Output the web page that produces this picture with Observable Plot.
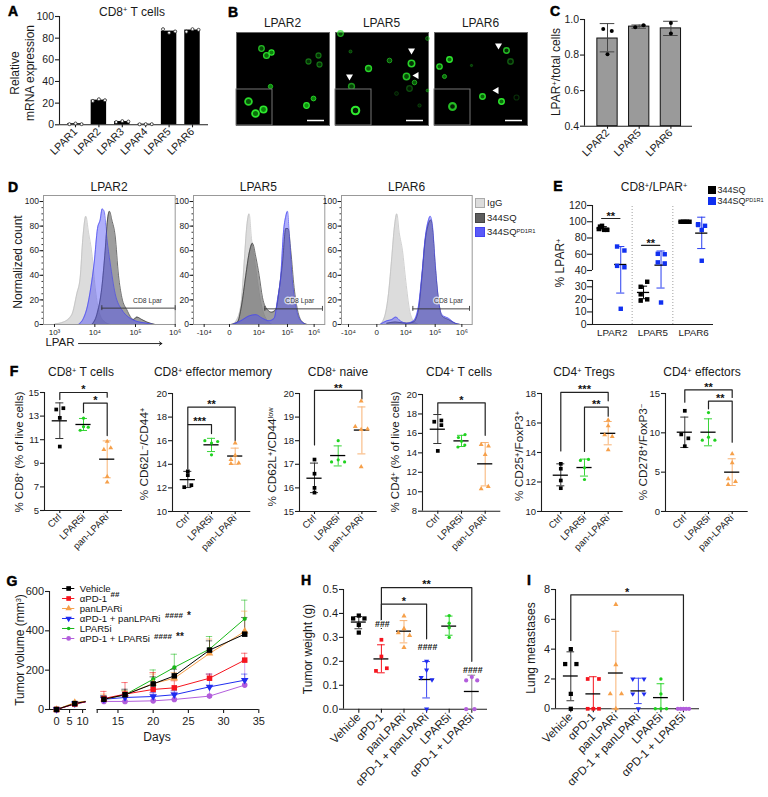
<!DOCTYPE html>
<html><head><meta charset="utf-8">
<script src="https://cdn.jsdelivr.net/npm/d3@7"></script>
<script src="https://cdn.jsdelivr.net/npm/@observablehq/plot@0.6"></script>
<style>
html,body{margin:0;padding:0;background:#fff}
#root{position:relative;width:768px;height:797px;overflow:hidden;font-family:"Liberation Sans",Arial,sans-serif;color:#1a1a1a}
#root svg{position:absolute;background:transparent;overflow:visible}
.t{position:absolute;white-space:nowrap;line-height:1;z-index:5}
.t sup{font-size:.62em;line-height:0;vertical-align:baseline;position:relative;top:-.42em}
.s{position:absolute;z-index:5}
</style></head><body><div id="root"></div>
<script>
// ---------- Panel A
const aCats=["LPAR1","LPAR2","LPAR3","LPAR4","LPAR5","LPAR6"];
const aBars=[1,22.8,3,0.6,86.5,87.5];
const aPoints=[[0.6,1.2,0.6],[22,23.6,22.7],[2.5,3.4,3],[0.5,0.6,0.6],[88.3,85,86.2],[86,88.3,87.7]];
const aOffsets=[-0.26,0,0.26];
// ---------- Panel C
const cCats=["LPAR2","LPAR5","LPAR6"];
const cMeans=[0.893,0.96,0.95];
const cUpper=[0.977,0.969,0.99];
const cLower=[0.818,0.951,0.91];
const cPoints=[[0.946,0.936,0.805],[0.957,0.968],[0.981,0.921]];
const cOffsets=[[-0.135,0.135,0],[-0.125,0.135],[0,0]];
// ---------- Panel B: cells [x,y,r,brightness,fill] in image pixels
const bTitles=["LPAR2","LPAR5","LPAR6"];
const bCells=[
 [[25,16,4,.8,.5],[30,23,4.4,.9,.6],[35,20,3.6,1,.7],[72,29,3.5,.45,.6],[82,23,3.5,.45,.6],[83,32,3.5,.45,.6],[34,54,2.5,.9,.8],[70,73,4,1,.8],[77,66,3,.9,.8]],
 [[5,1,4,.7,.6],[15,19,1.2,.5,.6],[33,36,4.5,.9,.6],[16,54,4.5,.6,.6],[54,28,2.8,.7,.6],[76,31,5.2,.9,.3],[71,44,5,.8,.5],[79,50,2.6,.8,.6],[74,56,4,.3,.5],[61,61,2,.25,.5],[92,6,2,.6,.6],[84,73,1.5,.3,.6],[92,58,1,.6,.8]],
 [[72,18,4.6,.8,.3],[76,29,4.6,.35,.4],[15,27,4.6,1,.6],[5,34,4.4,.9,.6],[10,44,2.6,.8,.7],[48,64,4.6,.9,.6],[67,69,4.6,1,.6],[82,65,3.8,.2,.1],[37,33,.8,.4,.8]]];
const bInsets=[[[12,69,6,.9,.5],[19,81,6,1,.6],[27,77,5.5,1,.7]],[[20,78,7,1,.15]],[[18,74,7,.8,.2]]];
const bArrows=[[],[[14,44,180],[76,18,180],[81,43,-90]],[[64,13,60],[62,58,-90]]];
// ---------- Panel D: display channel vs normalized count
const dLabels=[["10³","10⁴","10⁵","10⁶"],["-10⁴","0","10⁴","10⁵","10⁶"],["-10⁴","0","10⁴","10⁵","10⁶"]];
const dTicks=[[0,121,243,362],[-76,0,88,174,254],[-85,0,87,175,255]];
const dIgG=[
 [[2,.5],[27,2],[52,8],[67,25],[77,38],[85,70],[94,88],[102,75],[112,58],[122,30],[132,12],[147,3],[167,0]],
 [[9,0],[24,5],[36,20],[44,50],[52,80],[59,90],[66,70],[74,55],[84,35],[94,18],[104,8],[114,3],[129,0]],
 [[10,0],[25,8],[35,25],[45,55],[53,80],[60,90],[67,75],[77,60],[87,35],[98,12],[110,3],[125,0]]];
const dGray=[
 [[112,0],[127,8],[142,30],[152,60],[159,85],[165,92],[172,85],[182,72],[192,40],[202,22],[217,12],[237,4],[247,6],[262,4],[277,2],[302,0]],
 [[4,0],[24,2],[36,15],[49,40],[59,58],[69,66],[79,55],[89,40],[99,22],[114,12],[126,10],[139,12],[149,28],[159,50],[169,78],[176,78],[184,60],[194,30],[204,12],[219,2],[234,0]],
 [[30,1],[55,2],[90,1],[110,2],[125,12],[135,38],[145,68],[155,82],[162,85],[168,75],[175,48],[185,20],[195,7],[215,4],[235,1],[250,0]]];
const dBlue=[
 [[72,0],[87,5],[99,15],[109,30],[119,50],[129,78],[137,85],[143,94],[149,92],[157,70],[167,50],[182,25],[202,12],[222,6],[242,3],[277,1],[297,0]],
 [[9,0],[34,3],[59,7],[79,8],[99,5],[119,3],[134,5],[144,20],[154,40],[162,75],[169,88],[174,92],[180,70],[189,35],[199,15],[209,5],[229,0]],
 [[10,0],[30,3],[45,4],[57,6],[70,3],[90,1],[110,3],[125,15],[135,40],[145,70],[155,85],[160,88],[167,80],[175,50],[185,20],[195,8],[215,5],[235,1],[250,0]]];
const dGateStart=[142,106,108];
const dGateEnd=[362,279,278];
const dGateLabelX=[279,211,215];
// ---------- Panel E
const eCats=["LPAR2","LPAR5","LPAR6"];
const eBlackX=[-.3,-.25,-.33,-.2,-.12,.86,.7,.7,.86,.7,1.68,1.74,1.79,1.84,1.9];
const eBlackY=[94,95,91,90,90,34,30,24,20,19,100,100,100,100,100];
const eBlueX=[.12,.3,.12,.3,.21,1.12,1.29,1.12,1.29,1.2,2.11,2.28,2.2,2.11,2.2];
const eBlueY=[69.5,64.6,45.7,44,12.5,60.5,60,50,48.7,17.5,97,95,90,96,52];
const eBlackCenter=[-.22,.77,1.79], eBlackMean=[92,25.5,100], eBlackHi=[94,30.5,100], eBlackLo=[90,20.5,100];
const eBlueCenter=[.21,1.2,2.2], eBlueMean=[47.4,46.6,86], eBlueHi=[69.5,64,105.6], eBlueLo=[25,29,67];
// ---------- Panel F
const fCats=["Ctrl","LPAR5i","pan-LPARi"];
const f1Y=[[13.56,13.67,12.85,10.42],[12.82,11.8,12.06,12.1],[10.85,10.17,10.3,7.88,7.4]];
const f1X=[[-.15,.15,0,0],[0,-.14,.2,0],[0,-.14,.15,0,0]];
const f1Mean=[12.6,12.29,9.35],f1Hi=[14.12,12.8,10.9],f1Lo=[11.1,11.78,7.77];
const f1Br=[[0,2,15,14.4,14.6,"*",15.5],[1,2,14.1,13.3,11.35,"*",14.5]];
const f2Y=[[13.4,13.08,12.06,12.23],[16,15.93,15.8,14.8],[15.8,14.75,14.4,14.05,14.1]];
const f2X=[[0,0,-.15,.15],[-.28,.26,0,0],[0,0,-.18,-.18,.15]];
const f2Mean=[12.7,15.65,14.7],f2Hi=[13.4,16.2,15.37],f2Lo=[12.03,15.08,14];
const f2Br=[[0,1,17.37,13.6,16.6,"***",17.82],[0,2,18.84,17.4,16,"**",19.3]];
const f3Y=[[17.2,16.6,16,15.8],[18,17.1,17.19,17.1],[19.68,18.6,18.47,18.49,16.89]];
const f3X=[[0,0,0,0],[0,-.28,0,.27],[-.03,-.28,-.03,.24,-.03]];
const f3Mean=[16.41,17.37,18.45],f3Hi=[17.05,17.78,19.43],f3Lo=[15.8,16.93,17.44];
const f3Br=[[0,2,20.13,17.82,19.77,"**",20.34]];
const f4Y=[[17.2,17.33,16.85,14.2],[15.88,15.58,15.2,14.6,14.8],[14.86,14.69,13.83,10.3,10.54]];
const f4X=[[-.15,.15,.15,0],[.15,-.13,0,-.15,.14],[-.17,.14,0,-.17,.13]];
const f4Mean=[16.43,15.23,12.87],f4Hi=[17.94,15.8,15.06],f4Lo=[14.96,14.65,10.6];
const f4Br=[[0,2,19.14,18.05,15.8,"*",19.69]];
const f5Y=[[13.23,12.9,12.1,11.58],[13.53,13.46,12.96,12.17],[16.2,15.8,15.2,15.08,14.18]];
const f5X=[[0,0,0,0],[.17,-.17,0,0],[0,0,-.15,.17,0]];
const f5Mean=[12.46,12.98,15.3],f5Hi=[13.23,13.55,16.1],f5Lo=[11.74,12.4,14.52];
const f5Br=[[0,2,18.07,14.1,17.5,"***",18.45],[1,2,17.07,14.07,16.46,"**",17.41]];
const f6Y=[[12.8,9.8,9.3,8.3],[12.58,9.45,9.07,9.07],[7.33,6.19,4.15,3.8,3.43]];
const f6X=[[0,-.15,.15,0],[0,0,-.26,.27],[0,0,-.17,.14,-.17]];
const f6Mean=[10.08,10.08,5],f6Hi=[12,11.78,6.7],f6Lo=[8.14,8.35,3.3];
const f6Br=[[0,2,15.47,13.9,14.5,"**",16.1],[1,2,14.03,13.05,8.8,"**",14.66]];
// ---------- Panel G
const gNames=["Vehicle","αPD-1","panLPARi","αPD-1 + panLPARi","LPAR5i","αPD-1 + LPAR5i"];
const gEarlyDays=[0,7,11];
const gLateDays=[13,16,20,23,28,33];
const gEarly=[[0,30,40],[0,28,38],[0,35,42],[0,30,38],[0,32,40],[0,28,38]];
const gLate=[[52,75,130,171,302,383],[56,78,102,110,159,251],[52,75,132,159,285,397],[52,61,66,75,115,149],[51,75,154,214,307,461],[41,41,44,51,68,124]];
const gUpper=[[65,103,166,205,349,468],[92,137,188,146,180,286],[78,95,180,188,358,500],[70,78,86,95,180,180],[70,95,201,281,371,556],[61,70,78,86,112,247]];
// ---------- Panels H and I
const hiCats=gNames;
const hY=[[.391,.379,.379,.352,.32],[.29,.22,.171,.16],[.389,.336,.319,.308,.258],[.2,.164,.132,.123,.001],[.391,.359,.34,.3],[.134,.12,.12,0,0]];
const hX=[[0,-.25,.25,0,0],[0,0,.24,-.24],[0,0,-.25,.25,0],[0,0,-.24,.24,0],[0,0,0,0],[0,-.25,.24,-.25,.12]];
const hMean=[.364,.21,.326,.124,.347,.074],hHi=[.387,.269,.37,.199,.389,.142],hLo=[.336,.152,.277,.047,.309,0];
const hBr=[[1,5,.508,.338,.2,"**",.532],[1,3,.439,.338,.294,"*",.46]];
const hMarks=[[1,.357,"###"],[3,.259,"####"],[5,.164,"####"]];
const iY=[[4,3,3,1,0],[2,2,0,0,0],[7,2.95,1,1,0],[2,2,1,1,0],[2,1,0,0,0],[0,0,0,0,0]];
const iX=[[0,-.25,.25,0,0],[-.25,.25,-.25,0,.25],[0,0,-.25,.25,0],[-.25,.25,-.25,.25,0],[0,0,-.25,0,.25],[-.25,-.12,0,.12,.25]];
const iMean=[2.2,1,2.4,1.2,.75,0],iHi=[3.82,2.15,5.2,2.05,1.68,0],iLo=[.54,0,0,.35,0,0];
const iBr=[[0,5,7.64,4.58,.56,"*",7.95]];
// ---------- Styles
const INK="#1c1c1c";
const fStyle=[{c:"#000",e:"#333",s:"square",r:2.1,o:0},{c:"#1fd21f",e:"#37d437",s:"circle",r:1.6,o:0},{c:"#f6a04a",e:"#f8b272",s:"triangle",r:1.8,o:0}];
const gStyle=[{c:"#000",s:"square",r:3.1,o:0},{c:"#f5141e",s:"square",r:3.1,o:0},{c:"#f6a04a",s:"triangle",r:2.8,o:0},{c:"#1f2cf0",s:"triangle",r:2.8,o:180},{c:"#18b818",s:"circle",r:2.1,o:0},{c:"#b25ddc",s:"circle",r:2.8,o:0}];

const root=document.getElementById("root");
const M=50,MB=100;
function chart(b,marks,over={}){
  const w=b.xR-b.xL,h=b.yB-b.yT;
  const p=Plot.plot({width:w+2*M,height:h+M+MB,marginLeft:M,marginRight:M,marginTop:M,marginBottom:MB,
    x:{domain:b.xD,range:[M,M+w],axis:null,...(over.x||{})},
    y:{domain:b.yD,range:[M+h,M],axis:null,...(over.y||{})},
    style:{fontFamily:'"Liberation Sans",Arial,sans-serif',color:INK,background:"transparent",overflow:"visible"},
    marks});
  p.style.left=(b.xL-M)+"px";p.style.top=(b.yT-M)+"px";
  root.appendChild(p);return p;
}
function T(x,y,html,o={}){
  const d=document.createElement("div");d.className="t";d.innerHTML=html;
  const tx=o.anchor==="left"?"0":"-50%";
  d.style.cssText+=`left:${x}px;top:${y}px;font-size:${o.size||12}px;font-weight:${o.bold?"bold":"normal"};transform:translate(${tx},-50%)${o.rot?` rotate(${o.rot}deg)`:""};`;
  if(o.color)d.style.color=o.color;
  if(o.heavy)d.style.webkitTextStroke=".5px #000";
  root.appendChild(d);
}
function Swatch(x,y,w,h,fill,stroke){
  const d=document.createElement("div");d.className="s";
  d.style.cssText+=`left:${x}px;top:${y}px;width:${w}px;height:${h}px;background:${fill};box-sizing:border-box;${stroke?`border:1px solid ${stroke};`:""}`;
  root.appendChild(d);
}
const range=(n)=>d3.range(n);
function axes(xa,xb,ya,yb,{yTicks,xTicks,yFmt,xFmt,fs=10.5,xfs=fs,rot=-45,xSize=3,ySize=4,sw=1.1}){
  const m=[
    Plot.ruleX([xa],{y1:ya,y2:yb,stroke:INK,strokeWidth:sw}),
    Plot.ruleY([ya],{x1:xa,x2:xb,stroke:INK,strokeWidth:sw}),
    Plot.axisY(yTicks,{anchor:"left",label:null,tickSize:ySize,tickPadding:1.5,fontSize:fs,strokeWidth:sw,tickFormat:yFmt})
  ];
  if(xTicks)m.push(Plot.axisX(xTicks,{anchor:"bottom",label:null,tickSize:xSize,tickPadding:2,fontSize:xfs,strokeWidth:sw,tickFormat:xFmt,tickRotate:rot}));
  return m;
}
function stats(centers,means,hi,lo,styles,capW,meanW,meanSw=1.3){
  const rows=means.map((m,i)=>({x:centers[i],m,hi:hi[i],lo:lo[i],e:styles[i%styles.length].e}));
  return [
    Plot.ruleX(rows,{x:"x",y1:"lo",y2:"hi",stroke:"e",strokeWidth:1}),
    Plot.ruleY(rows,{y:"hi",x1:d=>d.x-capW,x2:d=>d.x+capW,stroke:"e",strokeWidth:1}),
    Plot.ruleY(rows,{y:"lo",x1:d=>d.x-capW,x2:d=>d.x+capW,stroke:"e",strokeWidth:1}),
    Plot.ruleY(rows,{y:"m",x1:d=>d.x-meanW,x2:d=>d.x+meanW,stroke:"#000",strokeWidth:meanSw})
  ];
}
function scatter(X,Y,styles,centered=true){
  return Y.map((ys,g)=>{
    const st=styles[g];
    const rows=ys.map((v,k)=>({x:(centered?g:0)+X[g][k],y:v}));
    return Plot.dot(rows,{x:"x",y:"y",symbol:st.s,r:st.r,fill:st.c,stroke:null,rotate:st.o});
  });
}
function brackets(list,lfs=11){
  const lines=list.map(([a,b,top,ea,eb])=>[{x:a,y:ea},{x:a,y:top},{x:b,y:top},{x:b,y:eb}]);
  return [
    ...lines.map(l=>Plot.line(l,{x:"x",y:"y",stroke:"#222",strokeWidth:1.2,curve:"linear"})),
    Plot.text(list,{x:d=>(d[0]+d[1])/2,y:d=>d[6],text:d=>d[5],fontSize:lfs,fontWeight:"bold",lineAnchor:"middle",dy:2.5,fill:"#111"})
  ];
}
function xDomain(xL,xR,c0,step){return [(xL-c0)/step,(xR-c0)/step];}

// ===== A =====
{
 const xD=xDomain(59,208,75,23.4);
 const rows=aBars.map((v,i)=>({i,v}));
 const pts=aPoints.flatMap((a,i)=>a.map((v,k)=>({x:i+aOffsets[k],y:v})));
 chart({xL:59,xR:208,yT:16,yB:124.3,xD,yD:[0,100]},[
  Plot.rectY(rows,{x1:d=>d.i-.33,x2:d=>d.i+.33,y1:0,y2:"v",fill:"#000"}),
  ...axes(xD[0],xD[1],0,100,{yTicks:[0,20,40,60,80,100],xTicks:range(6),xFmt:i=>aCats[i],fs:10.5,xfs:10.7}),
  Plot.dot(pts,{x:"x",y:"y",r:1.5,fill:"#fff",stroke:"#222",strokeWidth:.8})
 ]);
 T(132,11.5,"CD8<sup>+</sup> T cells");
 T(15,73,"Relative",{rot:-90});
 T(29.5,73,"mRNA expression",{rot:-90});
}
// ===== B =====
bTitles.forEach((t,i)=>{
 const L=[236,335,434][i];
 const cellMarks=(list)=>[
   Plot.dot(list,{x:"0",y:"1",r:d=>d[2],fill:"#10b810",fillOpacity:d=>d[3]*d[4],stroke:"#2ee82e",strokeOpacity:d=>d[3],strokeWidth:d=>Math.max(.6,d[2]*.3),imageFilter:"blur(.5px)"}),
 ];
 chart({xL:L,xR:L+93,yT:32,yB:125,xD:[0,93],yD:[93,0]},[
  Plot.frame({fill:"#000",stroke:"#666"}),
  ...cellMarks(bCells[i]),
  Plot.rect([{}],{x1:0,x2:36,y1:57,y2:93,fill:"#000",stroke:"#777",strokeWidth:1}),
  ...cellMarks(bInsets[i]),
  Plot.ruleY([88],{x1:71,x2:88,stroke:"#fff",strokeWidth:1.5}),
  Plot.dot(bArrows[i],{x:"0",y:"1",rotate:"2",symbol:"triangle",r:2.6,fill:"#fff",stroke:null})
 ]);
 T(L+46.5,22.5,t);
});
// ===== C =====
{
 const xD=xDomain(584,692,607,31.7);
 const rows=cMeans.map((v,i)=>({i,v}));
 chart({xL:584,xR:692,yT:19.3,yB:126,xD,yD:[.4,1]},[
  Plot.rectY(rows,{x1:d=>d.i-.32,x2:d=>d.i+.32,y1:.4,y2:"v",fill:"#9a9a9a",stroke:"#111",strokeWidth:1}),
  Plot.ruleX(rows,{x:"i",y1:(d)=>cLower[d.i],y2:(d)=>cUpper[d.i],stroke:"#444",strokeWidth:1}),
  Plot.ruleY(rows,{y:d=>cUpper[d.i],x1:d=>d.i-.23,x2:d=>d.i+.23,stroke:"#444",strokeWidth:1}),
  Plot.ruleY(rows,{y:d=>cLower[d.i],x1:d=>d.i-.23,x2:d=>d.i+.23,stroke:"#444",strokeWidth:1}),
  ...axes(xD[0],xD[1],.4,1,{yTicks:[.4,.6,.8,1],yFmt:d3.format(".1f"),xTicks:range(3),xFmt:i=>cCats[i],fs:10.5,xfs:10.7}),
  Plot.dot(cPoints.flatMap((a,i)=>a.map((v,k)=>({x:i+cOffsets[i][k],y:v}))),{x:"x",y:"y",r:2,fill:"#000"})
 ]);
 T(556,72,"LPAR<sup>+</sup>/total cells",{rot:-90});
}
// ===== D =====
["LPAR2","LPAR5","LPAR6"].forEach((t,i)=>{
 const L=[43.3,192.7,341.3][i],R=[175,324,472][i];
 const xD=[[-33,362],[-108,286],[-106,286]][i];
 const ser=[[dIgG[i],"#dcdcdc","#bdbdbd",1],[dGray[i],"#5d5d5d","#333",.6],[dBlue[i],"#4e4ef5","#4444f0",.45]];
 const minor=d3.range(0,105,5);
 const gy=i?12.7:13.3;
 chart({xL:L,xR:R,yT:195,yB:324,xD,yD:[0,104.9]},[
  ...ser.flatMap(([d,f,s,o])=>[
    Plot.areaY(d,{x:"0",y:"1",fill:f,fillOpacity:o,curve:"monotone-x"}),
    Plot.lineY(d,{x:"0",y:"1",stroke:s,strokeWidth:.7,curve:"monotone-x"})]),
  Plot.frame({stroke:"#999",strokeWidth:1}),
  Plot.axisY(minor,{anchor:"left",tickSize:1.5,tickFormat:()=>"",label:null,stroke:"#333"}),
  Plot.axisY([0,20,40,60,80,100],{anchor:"left",tickSize:3.5,tickPadding:1,label:null,fontSize:8.5}),
  Plot.axisX(dTicks[i],{anchor:"bottom",tickSize:3,tickPadding:1.5,label:null,fontSize:8,tickFormat:v=>dLabels[i][dTicks[i].indexOf(v)]}),
  Plot.ruleY([gy],{x1:dGateStart[i],x2:dGateEnd[i],stroke:"#333",strokeWidth:.9}),
  Plot.ruleX([dGateStart[i],dGateEnd[i]],{y1:gy-2,y2:gy+2,stroke:"#333",strokeWidth:.9}),
  Plot.text(["CD8 Lpar"],{x:dGateLabelX[i],y:19.5,fontSize:6.8,fill:"#333",stroke:i?"#fff":null,strokeOpacity:.65,strokeWidth:3}),
  ...(i==0?[Plot.arrow([{a:72,b:322}],{x1:"a",x2:"b",y1:-15.5,y2:-15.5,stroke:"#111",strokeWidth:.9,headLength:5,headAngle:70})]:[])
 ]);
 T((L+R)/2,186.5,t);
});
T(17.5,262,"Normalized count",{rot:-90});
T(60,343,"LPAR",{size:11.5});
Swatch(475,198,10,10,"#dcdcdc","#aaa");Swatch(475,212.5,10,10,"#5d5d5d","#444");Swatch(475,227,10,10,"#5a5af8","#4444f0");
T(487,203,"IgG",{size:9.5,anchor:"left"});T(487,217.5,"344SQ",{size:9.5,anchor:"left"});T(487,232,"344SQ<sup>PD1R1</sup>",{size:9.5,anchor:"left"});
// ===== E =====
{
 const L=592,R=713,c0=611.7,st=40.7;
 const xD=xDomain(L,R,c0,st);
 const pts=(X,Y,c)=>Plot.dot(X.map((x,k)=>({x,y:Y[k]})),{x:"x",y:"y",symbol:"square",r:2.5,fill:c,stroke:null});
 const e=[{e:"#000"}],b=[{e:"#2a3ff0"}];
 // broken axis: values map onto display units through a piecewise scale transform
 const broken=d3.scaleLinear().domain([0,35,40,120]).range([0,44,54,119]);
 chart({xL:L,xR:R,yT:205,yB:324,xD,yD:[0,119]},[
  Plot.ruleX([.49,1.49],{y1:0,y2:120,stroke:"#888",strokeWidth:.8,strokeDasharray:"1 2"}),
  Plot.ruleX([xD[0]],{y1:0,y2:35,stroke:INK,strokeWidth:1.1}),
  Plot.ruleX([xD[0]],{y1:40,y2:120,stroke:INK,strokeWidth:1.1}),
  Plot.ruleY([0],{x1:xD[0],x2:xD[1],stroke:INK,strokeWidth:1.1}),
  Plot.axisY([0,10,20,30,35,40,60,80,100,120],{anchor:"left",label:null,tickSize:5,tickPadding:1,fontSize:10.5,strokeWidth:1.1,tickFormat:d=>d===35?"":d}),
  Plot.axisX(range(3),{anchor:"bottom",label:null,tickSize:0,tickPadding:5,fontSize:9.8,tickFormat:i=>eCats[i]}),
  ...stats(eBlackCenter,eBlackMean,eBlackHi,eBlackLo,e,.1,.15),
  ...stats(eBlueCenter,eBlueMean,eBlueHi,eBlueLo,b,.1,.15),
  pts(eBlackX,eBlackY,"#000"),pts(eBlueX,eBlueY,"#1030f0"),
  ...brackets([[-.26,.19,104,104,104,"**",109.5],[.72,1.17,71,71,71,"**",76]],11)
 ],{y:{transform:broken}});
 T(654,187,"CD8<sup>+</sup>/LPAR<sup>+</sup>");
 T(560,263,"% LPAR<sup>+</sup>",{rot:-90});
 Swatch(708,186,8,8,"#000");Swatch(708,197,8,8,"#1030f0");
 T(717.5,190,"344SQ",{size:9,anchor:"left"});T(717.5,201,"344SQ<sup>PD1R1</sup>",{size:9,anchor:"left"});
}
// ===== F =====
const fPanels=[
 {t:"CD8<sup>+</sup> T cells",tx:81,yl:"% CD8<sup>+</sup> (% of live cells)",yx:20,ly:452,xL:43.7,xR:121.7,c0:59,yT:392,yB:510,yD:[5,15],ticks:[5,7,9,11,13,15],Y:f1Y,X:f1X,m:f1Mean,h:f1Hi,l:f1Lo,br:f1Br},
 {t:"CD8<sup>+</sup> effector memory",tx:213,yl:"% CD62L<sup>−</sup>/CD44<sup>+</sup>",yx:145,ly:454,xL:171.7,xR:250,c0:187,yT:392.7,yB:510.7,yD:[10,20],ticks:[10,12,14,16,18,20],Y:f2Y,X:f2X,m:f2Mean,h:f2Hi,l:f2Lo,br:f2Br},
 {t:"CD8<sup>+</sup> naive",tx:338,yl:"% CD62L<sup>+</sup>/CD44<sup>low</sup>",yx:273,ly:457,xL:299,xR:376.7,c0:314,yT:393,yB:511,yD:[15,20],ticks:[15,16,17,18,19,20],Y:f3Y,X:f3X,m:f3Mean,h:f3Hi,l:f3Lo,br:f3Br},
 {t:"CD4<sup>+</sup> T cells",tx:459,yl:"% CD4<sup>+</sup> (% of live cells)",yx:396,ly:452,xL:421.7,xR:500,c0:437,yT:394.3,yB:511,yD:[8,20],ticks:[8,10,12,14,16,18,20],Y:f4Y,X:f4X,m:f4Mean,h:f4Hi,l:f4Lo,br:f4Br},
 {t:"CD4<sup>+</sup> Tregs",tx:584,yl:"% CD25<sup>+</sup>/FoxP3<sup>+</sup>",yx:520,ly:456,xL:541,xR:622.7,c0:560.3,yT:393,yB:511,yD:[10,18],ticks:[10,12,14,16,18],Y:f5Y,X:f5X,m:f5Mean,h:f5Hi,l:f5Lo,br:f5Br},
 {t:"CD4<sup>+</sup> effectors",tx:702,yl:"% CD278<sup>+</sup>/FoxP3<sup>−</sup>",yx:644,ly:452,xL:665,xR:747.7,c0:684.3,yT:393,yB:511,yD:[0,15],ticks:[0,5,10,15],Y:f6Y,X:f6X,m:f6Mean,h:f6Hi,l:f6Lo,br:f6Br}
];
fPanels.forEach(p=>{
 const xD=xDomain(p.xL,p.xR,p.c0,23.7);
 chart({xL:p.xL,xR:p.xR,yT:p.yT,yB:p.yB,xD,yD:p.yD},[
  ...axes(xD[0],xD[1],p.yD[0],p.yD[1],{yTicks:p.ticks,xTicks:range(3),xFmt:i=>fCats[i],fs:9.5,xfs:9.6}),
  ...brackets(p.br,11),
  ...stats(range(3),p.m,p.h,p.l,fStyle,.17,.32),
  ...scatter(p.X,p.Y,fStyle)
 ]);
 T(p.tx,372,p.t);
 T(p.yx,p.ly,p.yl,{size:p.yx===20||p.yx===396?11.5:11.8,rot:-90});
});
// ===== G =====
{
 const xL=49,xR=258.3;
 const early=gNames.flatMap((n,s)=>gEarlyDays.map((d,k)=>({s,d,v:gEarly[s][k]})));
 const late=gNames.flatMap((n,s)=>gLateDays.map((d,k)=>({s,d,v:gLate[s][k],u:gUpper[s][k]})));
 const order=[5,4,3,2,1,0];
 const marks=[
  Plot.ruleX([-2.7],{y1:0,y2:600,stroke:INK,strokeWidth:1.1}),
  Plot.ruleY([0],{x1:-2.7,x2:11.5,stroke:INK,strokeWidth:1.1}),
  Plot.ruleY([0],{x1:12.05,x2:35,stroke:INK,strokeWidth:1.1}),
  Plot.axisY([0,200,400,600],{anchor:"left",label:null,tickSize:4,tickPadding:1.5,fontSize:11,strokeWidth:1.1}),
  Plot.axisX([0,5,10,12.05,15,20,25,30,35],{anchor:"bottom",label:null,tickSize:4,tickPadding:4,fontSize:11,strokeWidth:1.1,tickFormat:d=>d===12.05?"":d})
 ];
 for(const s of order){
  const st=gStyle[s],rows=late.filter(r=>r.s===s),er=early.filter(r=>r.s===s);
  marks.push(
   Plot.ruleX(rows,{x:"d",y1:"v",y2:"u",stroke:st.c,strokeOpacity:.55,strokeWidth:1}),
   Plot.ruleY(rows,{y:"u",x1:d=>d.d-.45,x2:d=>d.d+.45,stroke:st.c,strokeOpacity:.55,strokeWidth:1}),
   Plot.line(er,{x:"d",y:"v",stroke:st.c,strokeWidth:1}),
   Plot.line(rows,{x:"d",y:"v",stroke:st.c,strokeWidth:1})
  );
 }
 for(const s of order){
  const st=gStyle[s],rows=late.filter(r=>r.s===s),er=early.filter(r=>r.s===s&&r.d<10);
  marks.push(Plot.dot([...er,...rows],{x:"d",y:"v",symbol:st.s,r:st.r,fill:st.c,stroke:null,rotate:st.o}));
 }
 const w=xR-xL;
 // split axis: days map onto display units through a piecewise scale transform
 const splitDays=d3.scaleLinear().domain([-2.7,11.5,12.05,35]).range([0,37,47.7,w]);
 chart({xL,xR,yT:590.7,yB:708.7,xD:[0,w],yD:[0,600]},marks,{x:{transform:splitDays}});
 // legend
 chart({xL:61.7,xR:74,yT:586,yB:639,xD:[0,1],yD:gNames},[
  ...gNames.map((n,s)=>Plot.ruleY([n],{x1:0,x2:1,stroke:gStyle[s].c,strokeWidth:1})),
  ...gNames.map((n,s)=>Plot.dot([n],{x:.5,y:d=>d,symbol:gStyle[s].s,r:gStyle[s].r*.85,fill:gStyle[s].c,stroke:null,rotate:gStyle[s].o})),
  Plot.text(gNames,{x:1,y:d=>d,text:d=>d,dx:5,textAnchor:"start",fontSize:9.6,fill:"#111"})
 ],{y:{type:"point",domain:gNames,range:[M,M+53],padding:0}});
 T(115,594.5,"##",{size:8,bold:true});
 T(174,615.5,"####",{size:8,bold:true});T(189,615.5,"*",{size:10,bold:true});
 T(163,636.5,"####",{size:8,bold:true});T(180,636.5,"**",{size:10,bold:true});
 T(20,650,"Tumor volume (mm<sup>3</sup>)",{rot:-90});
 T(157,737,"Days");
}
// ===== H, I =====
function dotGroups(cfg){
 const xD=xDomain(cfg.xL,cfg.xR,cfg.c0,cfg.st);
 const sts=gStyle.map((g,i)=>({...g,e:["#333","#f5141e","#f8b272","#3a46f0","#2ad42a","#888"][i],r:[2.4,2.1,1.9,1.9,1.7,2.1][i],c:g.c==="#18b818"?"#1fd21f":g.c}));
 const sc=scatter(cfg.X,cfg.Y,sts);
 chart({xL:cfg.xL,xR:cfg.xR,yT:cfg.yT,yB:cfg.yB,xD,yD:cfg.yD},[
  ...axes(xD[0],xD[1],cfg.yD[0],cfg.yD[1],{yTicks:cfg.ticks,yFmt:cfg.fmt,xTicks:range(6),xFmt:i=>hiCats[i],fs:11,xfs:11.6,xSize:4}),
  ...brackets(cfg.br,11),
  ...stats(range(6),cfg.m,cfg.h,cfg.l,sts,.17,.33),
  ...sc,
  ...(cfg.extra||[])
 ]);
}
dotGroups({xL:342.7,xR:486.7,c0:358,st:22.6,yT:589,yB:708.7,yD:[0,.5],ticks:[0,.1,.2,.3,.4,.5],fmt:d3.format(".1f"),X:hX,Y:hY,m:hMean,h:hHi,l:hLo,br:hBr,
 extra:[Plot.text(hMarks,{x:d=>d[0],y:d=>d[1],text:d=>d[2],fontSize:8.8,fontWeight:"bold",fill:"#111",stroke:"#fff",strokeWidth:2,lineAnchor:"middle",dx:1})]});
dotGroups({xL:555,xR:699,c0:570.3,st:22.53,yT:589,yB:708.3,yD:[0,8],ticks:[0,2,4,6,8],X:iX,Y:iY,m:iMean,h:iHi,l:iLo,br:iBr});
T(308,649,"Tumor weight (g)",{rot:-90});
T(531,648,"Lung metastases",{rot:-90});
// ===== Panel letters =====
[["A",13,11],["B",233,12],["C",555,11],["D",13,187],["E",558,186],["F",14,371],["G",12,581],["H",306,580],["I",529,580]].forEach(([l,x,y])=>T(x,y,l,{size:14,bold:true,color:"#000",heavy:true}));
</script></body></html>
